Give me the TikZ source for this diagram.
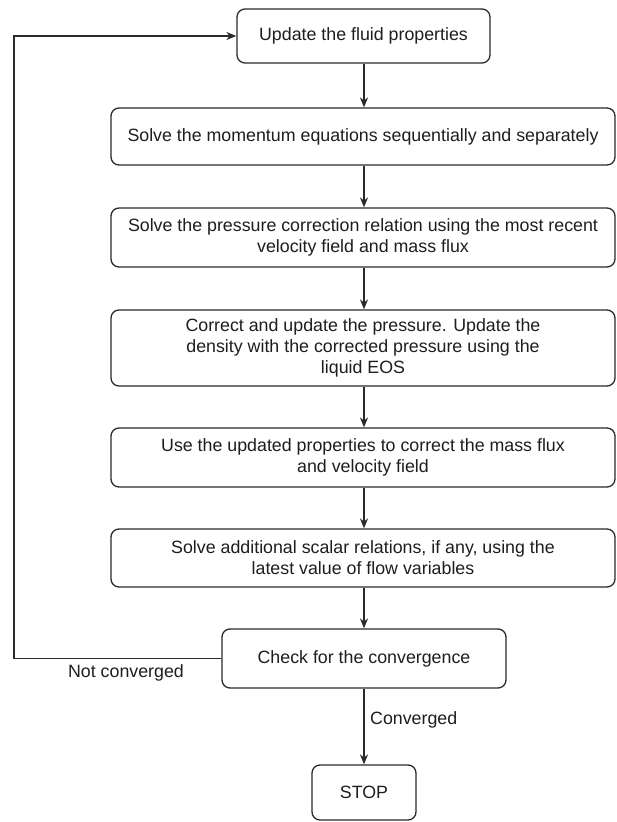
\documentclass[tikz,border=0pt]{standalone}
\usepackage{fontspec}
\setmainfont{Liberation Sans}
\usetikzlibrary{arrows.meta}
\definecolor{linec}{HTML}{2A2A2A}
\definecolor{textc}{HTML}{1E1E1E}
\begin{document}
\begin{tikzpicture}[x=1pt,y=-1pt,
  box/.style={draw=linec, line width=1.3pt, rounded corners=8pt, align=center, inner sep=0pt,
    font=\fontsize{17.8}{21}\selectfont, text=textc},
  conn/.style={draw=linec, line width=1.3pt, -{Stealth[length=10pt,width=8pt]}},
  lbl/.style={font=\fontsize{17.8}{21}\selectfont, text=textc, inner sep=0pt}]
\useasboundingbox (0,0) rectangle (616,822);
\fill[white] (0,0) rectangle (616,822);

\node[box, minimum width=253pt, minimum height=54pt] (b1) at (363.5,36) {Update the fluid properties};
\node[box, minimum width=504pt, minimum height=57pt] (b2) at (363,136.5) {Solve the momentum equations sequentially and separately};
\node[box, minimum width=504pt, minimum height=59pt] (b3) at (363,237.5) {Solve the pressure correction relation using the most recent\\velocity field and mass flux};
\node[box, minimum width=504pt, minimum height=76pt] (b4) at (363,348) {Correct and update the pressure. Update the\\density with the corrected pressure using the\\liquid EOS};
\node[box, minimum width=504pt, minimum height=59pt] (b5) at (363,457.5) {Use the updated properties to correct the mass flux\\and velocity field};
\node[box, minimum width=504pt, minimum height=58pt] (b6) at (363,558) {Solve additional scalar relations, if any, using the\\latest value of flow variables};
\node[box, minimum width=284pt, minimum height=59pt] (chk) at (364,658.5) {Check for the convergence};
\node[box, minimum width=104pt, minimum height=55pt] (stop) at (364,792.5) {STOP};

\draw[conn] (b1.south -| chk.north) -- (b2.north -| chk.north);
\draw[conn] (b2.south -| chk.north) -- (b3.north -| chk.north);
\draw[conn] (b3.south -| chk.north) -- (b4.north -| chk.north);
\draw[conn] (b4.south -| chk.north) -- (b5.north -| chk.north);
\draw[conn] (b5.south -| chk.north) -- (b6.north -| chk.north);
\draw[conn] (b6.south -| chk.north) -- (chk.north);
\draw[conn] (chk.south) -- (stop.north);

\coordinate (lp) at (14,0);
\draw[conn] (chk.west) -- (chk.west -| lp) |- (b1.west);

\node[lbl] (nc) at (126,673) {Not converged};
\node[lbl, anchor=west] (cv) at (370,720) {Converged};
\end{tikzpicture}
\end{document}
